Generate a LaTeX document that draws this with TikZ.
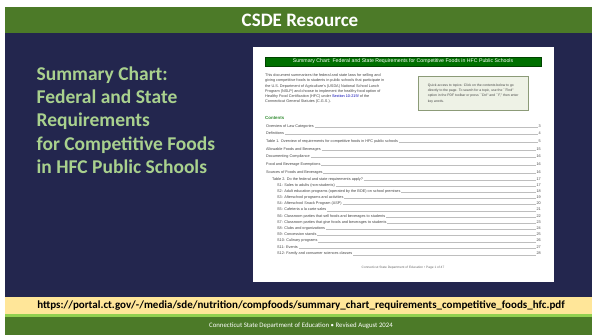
\documentclass[tikz,border=0pt]{standalone}
\usepackage{fontspec}
\setmainfont{Carlito}
\newfontfamily\docfont{Liberation Sans}
\usetikzlibrary{positioning}
\definecolor{slidenavy}{RGB}{35,38,78}
\definecolor{headgreen}{RGB}{76,122,40}
\definecolor{titlegreen}{RGB}{169,209,142}
\definecolor{urlyellow}{RGB}{255,230,153}
\definecolor{limegreen}{RGB}{146,208,80}
\definecolor{barGreen}{RGB}{0,112,0}
\definecolor{boxfill}{RGB}{238,242,230}
\definecolor{boxline}{RGB}{140,155,120}
\definecolor{docgray}{RGB}{70,70,70}
\tikzset{
    headtext/.style={text=white, font=\fontsize{19}{22}\selectfont\bfseries},
    titletext/.style={text=titlegreen, anchor=west, inner sep=0pt, align=left,
                      font=\fontsize{19.5}{23.3}\selectfont\bfseries},
    urltext/.style={text=black, font=\fontsize{11}{13}\selectfont\bfseries},
    foottext/.style={text=white, font=\fontsize{6.8}{8}\selectfont},
    page/.style={fill=white, draw=none, minimum width=301pt, minimum height=235pt, inner sep=0pt},
    docbar/.style={fill=barGreen, draw=barGreen!60!black, line width=0.4pt, text=white,
                   minimum width=276pt, minimum height=9pt, inner sep=0pt,
                   font=\docfont\fontsize{5.2}{6}\selectfont},
    doctext/.style={text=docgray, inner sep=0pt, align=left, anchor=north west,
                    font=\docfont\fontsize{3.8}{5.3}\selectfont},
    quickbox/.style={fill=boxfill, draw=boxline, line width=0.4pt, text=docgray, align=left,
                     anchor=north west, minimum width=110pt, minimum height=34pt, inner xsep=5pt,
                     font=\docfont\fontsize{3.4}{5.3}\selectfont},
    contentshead/.style={text=barGreen!80, anchor=west, inner sep=0pt,
                         font=\docfont\fontsize{4.4}{5}\selectfont\bfseries},
    tocentry/.style={text=docgray, anchor=base west, inner sep=0pt,
                     font=\docfont\fontsize{3.8}{4.5}\selectfont},
    tocpage/.style={text=docgray, anchor=base east, inner sep=0pt,
                    font=\docfont\fontsize{3.8}{4.5}\selectfont},
    leader/.style={docgray!35, line width=0.3pt, shorten <=0.6pt, shorten >=0.6pt},
    pagefoot/.style={text=docgray!80, inner sep=0pt, font=\docfont\fontsize{3.2}{4}\selectfont},
}
\begin{document}
\begin{tikzpicture}[x=1pt,y=-1pt]
    \useasboundingbox (0,0) rectangle (592,335);
    \fill[white] (0,0) rectangle (592,335);

    % Slide background and bands
    \fill[slidenavy] (5,7) rectangle (592,297);
    \fill[headgreen] (5,7) rectangle (592,33);
    \fill[urlyellow] (5,297) rectangle (592,314);
    \fill[limegreen] (5,314) rectangle (592,317);
    \fill[headgreen] (5,317) rectangle (592,335);
    \node[headtext] (head) at (300,20) {CSDE Resource};

    % Left title
    \node[titletext] (title) at (36.5,120) {Summary Chart:\\Federal and State\\Requirements\\for Competitive Foods\\in HFC Public Schools};

    % Link and footer
    \node[urltext] (url) at (301,305.5) {https://portal.ct.gov/-/media/sde/nutrition/compfoods/summary\_chart\_requirements\_competitive\_foods\_hfc.pdf};
    \node[foottext] (foot) at (301,326) {Connecticut State Department of Education • Revised August 2024};

    % Document preview
    \node[page] (page) at (403.5,164.5) {};
    \node[docbar] (bar) at (403,61.5) {Summary Chart: Federal and State Requirements for Competitive Foods in HFC Public Schools};
    \node[doctext] (intro) at (265,73.5) {This document summarizes the federal and state laws for selling and\\
        giving competitive foods to students in public schools that participate in\\
        the U.S. Department of Agriculture's (USDA) National School Lunch\\
        Program (NSLP) and choose to implement the healthy food option of\\
        Healthy Food Certification (HFC) under \textcolor{blue!70!black}{Section 10-215f} of the\\
        Connecticut General Statutes (C.G.S.).};
    \node[quickbox] (quick) at (418,76) {Quick access to topics: Click on the contents below to go\\
        directly to the page. To search for a topic, use the ``Find''\\
        option in the PDF toolbar or press ``Ctrl'' and ``F,'' then enter\\
        key words.};
    \node[contentshead] (contents) at (265,118) {Contents};

    % Table of contents
    \foreach \y/\x/\entry/\pg [count=\i] in {
        127/266/{Overview of Law Categories}/3,
        134.5/266/{Definitions}/4,
        142/266/{Table 1. Overview of requirements for competitive foods in HFC public schools}/5,
        150/266/{Allowable Foods and Beverages}/15,
        157.5/266/{Documenting Compliance}/16,
        165.5/266/{Food and Beverage Exemptions}/16,
        173.5/266/{Sources of Foods and Beverages}/16,
        180.5/272/{Table 2. Do the federal and state requirements apply?}/17,
        186/277/{S1: Sales to adults (non-students)}/17,
        192.2/277/{S2: Adult education programs (operated by the BOE) on school premises}/18,
        198.4/277/{S3: Afterschool programs and activities}/19,
        204.6/277/{S4: Afterschool Snack Program (ASP)}/20,
        210.8/277/{S5: Cafeteria a la carte sales}/21,
        217/277/{S6: Classroom parties that sell foods and beverages to students}/22,
        223.2/277/{S7: Classroom parties that give foods and beverages to students}/23,
        229.4/277/{S8: Clubs and organizations}/24,
        235.6/277/{S9: Concession stands}/25,
        241.8/277/{S10: Culinary programs}/26,
        248/277/{S11: Events}/27,
        254.8/277/{S12: Family and consumer sciences classes}/28} {
        \node[tocentry] (toc\i) at (\x,\y) {\entry};
        \node[tocpage] (pg\i) at (541,\y) {\pg};
        \draw[leader] (toc\i.base east) -- (pg\i.base west);
    }
    \node[pagefoot] (pagenum) at (403,268) {Connecticut State Department of Education • Page 1 of 47};
\end{tikzpicture}
\end{document}
